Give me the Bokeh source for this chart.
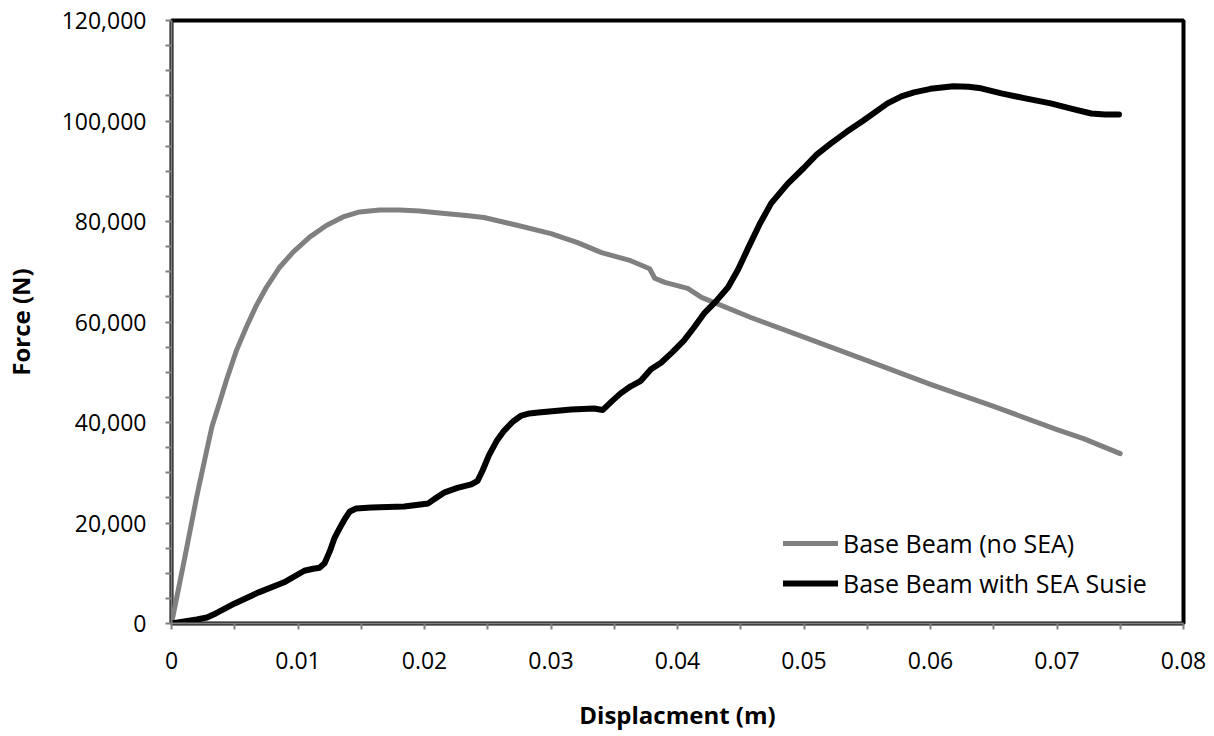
from bokeh.plotting import figure
from bokeh.models import (Range1d, FixedTicker, NumeralTickFormatter,
                          CustomJSTickFormatter, Legend, LegendItem)
from bokeh.embed import file_html
from bokeh.resources import INLINE

# ---- data ----
disp_base = [0, 0.0010, 0.0020, 0.0027, 0.0032, 0.0038, 0.00434, 0.00513,
             0.00592, 0.00671, 0.00750, 0.00855, 0.00961, 0.01092, 0.01224,
             0.01356, 0.01487, 0.01645, 0.01803, 0.01961, 0.02119, 0.0233,
             0.0247, 0.0274, 0.0300, 0.0321, 0.0340, 0.0363, 0.0378, 0.0382,
             0.0390, 0.0408, 0.0419, 0.0458, 0.0500, 0.0550, 0.0600, 0.0650,
             0.0700, 0.0721, 0.0750]
force_base = [0, 12500, 25300, 33500, 39200, 44000, 48400, 54300,
              59000, 63300, 66900, 70900, 73900, 76900, 79200,
              80900, 81900, 82300, 82300, 82100, 81700, 81200,
              80800, 79200, 77600, 75800, 73800, 72200, 70600, 68700,
              67900, 66700, 64900, 60900, 57000, 52300, 47600, 43200,
              38600, 36800, 33800]

disp_sea = [0, 0.0010, 0.0020, 0.0028, 0.0035, 0.0050, 0.0069, 0.0089, 0.0105,
            0.0112, 0.0117, 0.0121, 0.0125, 0.0129, 0.0133, 0.0137, 0.0141,
            0.0146, 0.0158, 0.0184, 0.0203, 0.0208, 0.0216, 0.0226, 0.0237,
            0.0242, 0.0246, 0.0251, 0.0257, 0.0263, 0.0270, 0.0276, 0.0283,
            0.0290, 0.0316, 0.0334, 0.0341, 0.0348, 0.0355, 0.0363, 0.0371,
            0.0379, 0.0387, 0.0396, 0.0405, 0.0413, 0.0421, 0.0430, 0.0440,
            0.0448, 0.0456, 0.0465, 0.0474, 0.0487, 0.0500, 0.0510, 0.0521,
            0.0534, 0.0547, 0.0566, 0.0577, 0.0587, 0.0600, 0.0618, 0.0630,
            0.0640, 0.0656, 0.0675, 0.0695, 0.0712, 0.0727, 0.0738, 0.0749]
force_sea = [0, 400, 800, 1200, 2000, 4000, 6200, 8200, 10500,
             10900, 11100, 12000, 14300, 17100, 19000, 20800, 22300,
             22900, 23100, 23300, 23900, 24800, 26100, 27000, 27700,
             28400, 30500, 33500, 36300, 38400, 40200, 41300, 41800,
             42000, 42600, 42800, 42500, 44200, 45800, 47200, 48300,
             50600, 51900, 54000, 56300, 58900, 61700, 64000, 66900,
             70500, 74800, 79500, 83600, 87500, 90700, 93300, 95500,
             97900, 100100, 103500, 104900, 105700, 106400, 106900, 106800,
             106500, 105500, 104500, 103500, 102400, 101500, 101300, 101300]

series_labels = ["Base Beam (no SEA)", "Base Beam with SEA Susie"]
x_major = [0, 0.01, 0.02, 0.03, 0.04, 0.05, 0.06, 0.07, 0.08]
x_minor = [0.005, 0.015, 0.025, 0.035, 0.045, 0.055, 0.065, 0.075]
y_major = [0, 20000, 40000, 60000, 80000, 100000, 120000]
y_minor = [5000, 10000, 15000, 25000, 30000, 35000, 45000, 50000, 55000,
           65000, 70000, 75000, 85000, 90000, 95000, 105000, 110000, 115000]

FONT = "Open Sans"
GRAY = "#808080"

p = figure(width=1214, height=736, output_backend="svg", toolbar_location=None,
           x_range=Range1d(0, 0.08), y_range=Range1d(0, 120000),
           min_border_left=170, min_border_right=31,
           min_border_top=20, min_border_bottom=113)
p.grid.visible = False
p.background_fill_color = "white"
p.border_fill_color = "white"
p.outline_line_color = "black"
p.outline_line_width = 4

r1 = p.line(disp_base, force_base, line_color=GRAY, line_width=5,
            line_join="round", line_cap="round")
r2 = p.line(disp_sea, force_sea, line_color="black", line_width=6,
            line_join="round", line_cap="round")

p.xaxis.ticker = FixedTicker(ticks=x_major, minor_ticks=x_minor)
p.yaxis.ticker = FixedTicker(ticks=y_major, minor_ticks=y_minor)
p.xaxis.formatter = CustomJSTickFormatter(code="return tick === 0 ? '0' : tick.toFixed(2);")
p.yaxis.formatter = NumeralTickFormatter(format="0,0")

for ax in (p.xaxis[0], p.yaxis[0]):
    ax.axis_line_color = GRAY
    ax.axis_line_width = 2
    ax.major_tick_line_color = GRAY
    ax.minor_tick_line_color = GRAY
    ax.major_tick_line_width = 2
    ax.minor_tick_line_width = 2
    ax.major_tick_in = 0
    ax.major_tick_out = 6
    ax.minor_tick_in = 0
    ax.minor_tick_out = 6
    ax.major_label_text_font = FONT
    ax.major_label_text_font_size = "23px"
    ax.major_label_text_color = "black"
    ax.axis_label_text_font = FONT
    ax.axis_label_text_font_size = "24px"
    ax.axis_label_text_font_style = "bold"
    ax.axis_label_text_color = "black"

p.xaxis.axis_label = "Displacment (m)"
p.yaxis.axis_label = "Force (N)"
p.xaxis.major_label_standoff = 22
p.yaxis.major_label_standoff = 19
p.xaxis.axis_label_standoff = 26
p.yaxis.axis_label_standoff = 22

legend = Legend(items=[LegendItem(label=series_labels[0], renderers=[r1]),
                       LegendItem(label=series_labels[1], renderers=[r2])],
                location=(612, 20))
legend.label_text_font = FONT
legend.label_text_font_size = "25px"
legend.label_text_color = "black"
legend.glyph_width = 55
legend.glyph_height = 40
legend.label_height = 40
legend.label_standoff = 5
legend.spacing = 0
legend.padding = 0
legend.margin = 0
legend.border_line_alpha = 0
legend.background_fill_alpha = 0
p.add_layout(legend)

open("out.html", "w").write(file_html(p, INLINE))
